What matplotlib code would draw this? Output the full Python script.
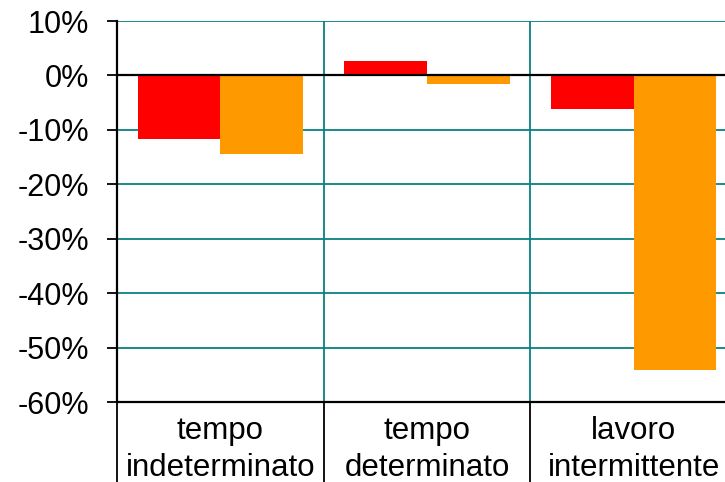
import matplotlib
matplotlib.use("Agg")
import matplotlib.pyplot as plt
from matplotlib.ticker import FixedLocator, FuncFormatter
import numpy as np

categories = ["tempo\nindeterminato", "tempo\ndeterminato", "lavoro\nintermittente"]
series_red = [-11.6, 2.7, -6.1]
series_orange = [-14.5, -1.6, -54.1]
y_ticks = [10, 0, -10, -20, -30, -40, -50, -60]

plt.rcParams['font.family'] = ['Liberation Sans', 'DejaVu Sans']
plt.rcParams['axes.unicode_minus'] = False

W, H = 725, 482
fig = plt.figure(figsize=(W / 100, H / 100), dpi=100)
ax = fig.add_axes([117 / W, (H - 402) / H, 620 / W, (402 - 21) / H])

teal = "#0A8080"
x = np.arange(len(categories))
ax.bar(x + 0.3, series_red, width=0.4, color="#FF0000", zorder=2)
ax.bar(x + 0.7, series_orange, width=0.4, color="#FF9900", zorder=2)

ax.set_xlim(0, 3)
ax.set_ylim(-60, 10)

# horizontal gridlines
ax.set_yticks(y_ticks)
ax.yaxis.set_major_formatter(FuncFormatter(lambda v, p: f"{v:.0f}%"))
for yv in y_ticks:
    if yv not in (0, -60):
        ax.axhline(yv, color=teal, lw=1.3, zorder=1)
ax.axhline(0, color="black", lw=1.6, zorder=3)

# vertical gridlines at category boundaries
for xv in [1, 2, 3]:
    ax.axvline(xv, color=teal, lw=1.3, zorder=1)

# category labels and divider ticks
ax.xaxis.set_major_locator(FixedLocator(x + 0.5))
ax.set_xticklabels(categories, fontsize=22.5, linespacing=1.33)
ax.xaxis.set_minor_locator(FixedLocator([0, 1, 2, 3]))
ax.tick_params(axis="x", which="major", length=0, pad=10)
ax.tick_params(axis="x", which="minor", length=60, width=1.3, color="black", direction="out")
ax.tick_params(axis="y", which="major", length=7.2, width=1.3, pad=13, labelsize=22)

for s in ["top", "right"]:
    ax.spines[s].set_visible(False)
ax.spines["left"].set_linewidth(1.6)
ax.spines["bottom"].set_linewidth(1.6)

fig.savefig("out.png", dpi=100)
